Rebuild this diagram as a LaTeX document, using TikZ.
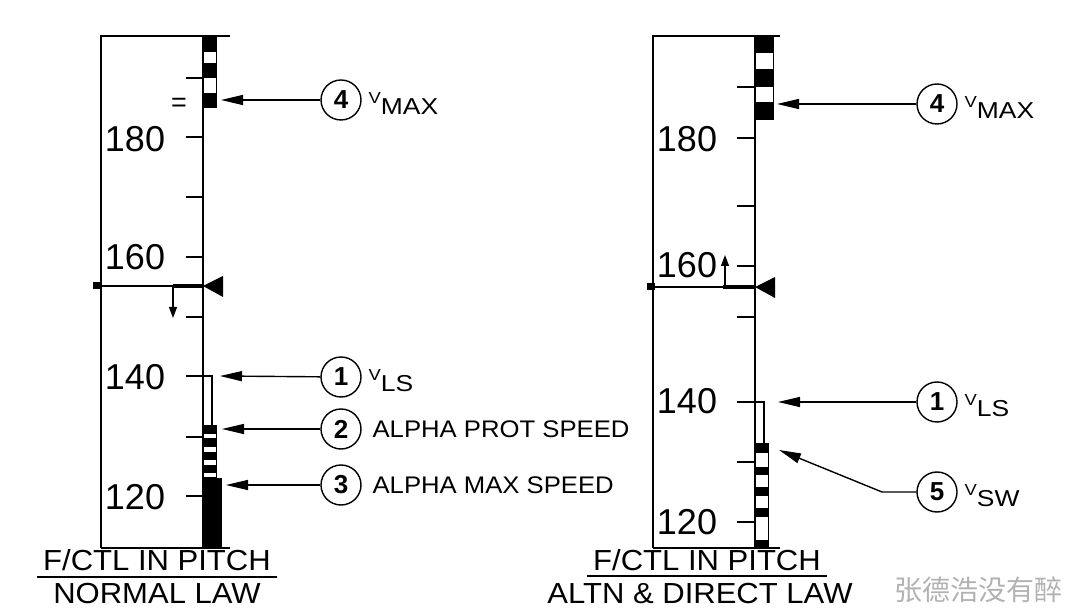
\documentclass[tikz,border=0pt]{standalone}
\usepackage{fontspec}
\setmainfont{Liberation Sans}
\newfontfamily\widefont[FakeStretch=1.07]{Liberation Sans}
\newfontfamily\subfont[FakeStretch=1.15]{Liberation Sans}
\newfontfamily\cjk{Noto Sans CJK SC}
\usetikzlibrary{arrows.meta,positioning}

\newcommand\spdlbl[1]{{\subfont\fontsize{16}{16}\selectfont V}\raisebox{-11pt}{\subfont\fontsize{23}{23}\selectfont #1}}

\begin{document}
\begin{tikzpicture}[x=1pt,y=-1pt,line width=1.8pt,
    tick/.style={line width=1.4pt},
    num/.style={font=\fontsize{36}{36}\selectfont,inner sep=0pt},
    callout/.style={circle,draw,line width=1.4pt,minimum size=40pt,inner sep=0pt,
      font=\bfseries\fontsize{26}{26}\selectfont},
    lbl/.style={inner sep=0pt,font=\widefont\fontsize{24}{24}\selectfont},
    ttl/.style={anchor=base,inner sep=0pt,font=\widefont\fontsize{29}{29}\selectfont},
    ptr/.style={-{Triangle[length=22pt,width=10pt]},line width=1.4pt},
    trend/.style={-{Triangle[length=11pt,width=8pt]},line width=1.2pt}]
 \useasboundingbox (0,0) rectangle (1080,609);
 % normal law tape
 \draw (101,548) -- (101,36) -- (230,36) (101,548) -- (230,548) (203,36) -- (203,548);
 \foreach \y in {78,137,197,257,317,376,437,496} \draw[tick] (186,\y) -- (203,\y);
 \node[num] (n180L) at (135,139) {180};
 \node[num] (n160L) at (135,257) {160};
 \node[num] (n140L) at (135,377) {140};
 \node[num] (n120L) at (135,497) {120};
 \node[inner sep=0pt,font=\fontsize{27}{27}\selectfont] (eqL) at (179,105) {=};
 \draw[line width=1pt] (203,36) rectangle (216,108) (203,426) rectangle (216,478);
 \foreach \a/\b in {36/52,63/78,93/108,426/434,438/447,452/460,465/473}
  \fill (203,\a) rectangle (216,\b);
 \fill (203,478) rectangle (222,548);
 \draw[line width=1.2pt] (186,376) -| (212,426);
 \fill (93,282.5) rectangle (101,289.5);
 \draw[line width=1.4pt] (101,286) -- (173,286);
 \draw[line width=3.5pt] (173,286) -- (203,286);
 \fill (203,286) -- (223,276) -- (223,297) -- cycle;
 \draw[trend] (173,286) -- (173,318);
 \coordinate (vmaxL) at (221,100);
 \coordinate (vlsL) at (220,376);
 \coordinate (protL) at (222,429);
 \coordinate (amaxL) at (226,485);
 \node[callout] (c4L) at (341,100) {4};
 \node[callout] (c1L) at (341,377) {1};
 \node[callout] (c2L) at (341,429) {2};
 \node[callout] (c3L) at (341,485) {3};
 \node[lbl,right=6pt of c4L,yshift=-3.5pt] (t4L) {\spdlbl{MAX}};
 \node[lbl,right=6pt of c1L,yshift=-3.5pt] (t1L) {\spdlbl{LS}};
 \node[lbl,right=10pt of c2L] (t2L) {ALPHA PROT SPEED};
 \node[lbl,right=10pt of c3L] (t3L) {ALPHA MAX SPEED};
 \draw[ptr] (c4L) -- (vmaxL);
 \draw[ptr] (c1L) -- (vlsL);
 \draw[ptr] (c2L) -- (protL);
 \draw[ptr] (c3L) -- (amaxL);
 \node[ttl] (ttlL) at (157,571) {F/CTL IN PITCH};
 \node[ttl] (lawL) at (157,604) {NORMAL LAW};
 \draw[line width=1.4pt] ([xshift=-5pt,yshift=-6pt]ttlL.base west) -- ([xshift=5pt,yshift=-6pt]ttlL.base east);
 % altn & direct law tape
 \draw (653,548) -- (653,36) -- (780,36) (653,548) -- (780,548) (755,36) -- (755,548);
 \foreach \y in {87,138,206,266,317,402,462,522} \draw[tick] (737,\y) -- (755,\y);
 \node[num] (n180R) at (687,139) {180};
 \node[num] (n160R) at (687,265) {160};
 \node[num] (n140R) at (687,401) {140};
 \node[num] (n120R) at (687,522) {120};
 \draw[line width=1pt] (755,36) rectangle (773,120) (755,444) rectangle (768,548);
 \foreach \a/\b in {36/53,69/87,102/120} \fill (755,\a) rectangle (773,\b);
 \foreach \a/\b in {444/453,467/475,487/496,508/517,540/548} \fill (755,\a) rectangle (768,\b);
 \draw[line width=1.2pt] (737,402) -| (764,444);
 \fill (647,283.5) rectangle (655,290.5);
 \draw[line width=1.4pt] (655,287) -- (723,287);
 \draw[line width=3.5pt] (723,287) -- (755,287);
 \fill (755,287) -- (775,277) -- (775,298) -- cycle;
 \draw[trend] (725,287) -- (725,255);
 \coordinate (vmaxR) at (777,104);
 \coordinate (vlsR) at (778,402);
 \coordinate (vswR) at (779,450);
 \node[callout] (c4R) at (937,104) {4};
 \node[callout] (c1R) at (937,402) {1};
 \node[callout] (c5R) at (937,492) {5};
 \node[lbl,right=6pt of c4R,yshift=-3.5pt] (t4R) {\spdlbl{MAX}};
 \node[lbl,right=6pt of c1R,yshift=-3.5pt] (t1R) {\spdlbl{LS}};
 \node[lbl,right=6pt of c5R,yshift=-3.5pt] (t5R) {\spdlbl{SW}};
 \draw[ptr] (c4R) -- (vmaxR);
 \draw[ptr] (c1R) -- (vlsR);
 \draw[ptr] (c5R) -- ++(-55,0) -- (vswR);
 \node[ttl] (ttlR) at (707,571) {F/CTL IN PITCH};
 \node[ttl] (lawR) at (700,604) {ALTN \& DIRECT LAW};
 \draw[line width=1.4pt] ([xshift=-5pt,yshift=-5pt]ttlR.base west) -- ([xshift=5pt,yshift=-5pt]ttlR.base east);
 \node[inner sep=0pt,text=black!30,font=\cjk\fontsize{28}{28}\selectfont] (wmark) at (978,590) {张德浩没有醉};
\end{tikzpicture}
\end{document}
